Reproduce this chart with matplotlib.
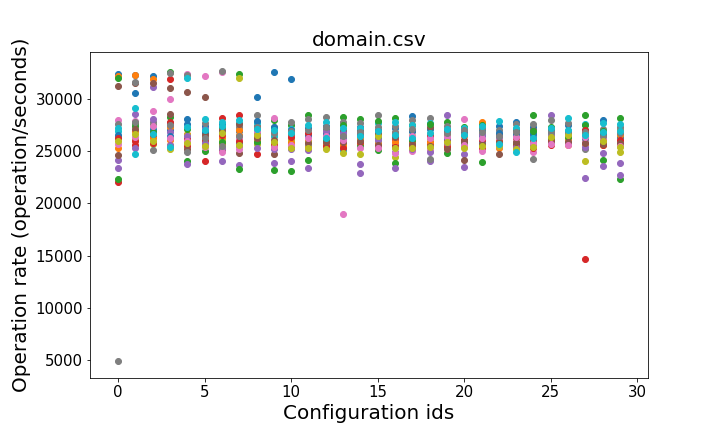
import matplotlib
matplotlib.use("Agg")
import matplotlib.pyplot as plt

# configuration ids on the x axis
config_ids = [0, 1, 2, 3, 4, 5, 6, 7, 8, 9, 10, 11, 12, 13, 14,
              15, 16, 17, 18, 19, 20, 21, 22, 23, 24, 25, 26, 27, 28, 29]

# --- operation rates per run (one list per run, one value per config) ---
run_01 = [32400, 32250, 32150, 27000, 28100, 27400, 27600, 26900, 30200, 32550, 31900, 27200, 27400, 26800, 27300,
          27000, 27200, 28350, 27100, 27000, 26800, 27000, 27400, 27800, 27300, 27000, 27500, 27000, 28000, 27000]
run_02 = [32200, 32250, 31850, 27300, 26600, 26300, 26200, 26500, 26600, 26400, 26000, 26000, 26600, 26500, 26200,
          26500, 26700, 26400, 26600, 26500, 26400, 27800, 25300, 26500, 26700, 26700, 25550, 25700, 26300, 27000]
run_03 = [31950, 27400, 27500, 32550, 24050, 26700, 27300, 32400, 27200, 28000, 27500, 28400, 27000, 28250, 28100,
          25050, 28150, 27500, 25900, 27800, 27300, 27500, 26500, 27100, 28450, 27300, 26900, 28450, 24150, 28150]
run_04 = [22050, 25600, 26400, 31900, 26200, 24050, 28150, 28400, 24750, 26800, 25800, 25900, 26300, 26000, 26800,
          26800, 26100, 25900, 25800, 26000, 25700, 25300, 26600, 26200, 25600, 25550, 26000, 14700, 26100, 25600]
run_05 = [24100, 28550, 31100, 26800, 23800, 27100, 24050, 23650, 26700, 23900, 25150, 25050, 25700, 25800, 23800,
          25800, 24900, 26300, 24050, 28400, 24700, 25900, 25600, 26700, 26300, 28450, 26400, 22450, 24800, 23900]
run_06 = [31250, 31550, 31500, 31050, 30600, 30200, 25100, 24800, 27400, 24700, 26600, 26400, 26800, 27000, 27000,
          26700, 25600, 26900, 27300, 26800, 24150, 26400, 24750, 26900, 27000, 27100, 26700, 26400, 26500, 26600]
run_07 = [28000, 27900, 28850, 30000, 32350, 32200, 32550, 26200, 25800, 28200, 26200, 25600, 25400, 19000, 25800,
          26200, 25900, 25000, 25100, 25600, 28100, 25000, 26100, 25900, 24900, 26100, 26200, 26000, 25900, 26000]
run_08 = [4900, 31650, 27800, 32450, 32300, 27700, 32700, 27300, 28450, 27300, 27750, 28100, 28250, 27800, 27700,
          28450, 27400, 28000, 28200, 27400, 26600, 27200, 27000, 27600, 27600, 28000, 27700, 25200, 27100, 27300]
run_09 = [26300, 26150, 25700, 25600, 26500, 25900, 26000, 32000, 25650, 25450, 26100, 25900, 25600, 25500, 26000,
          25950, 24400, 26400, 26200, 25500, 26000, 26200, 25900, 25700, 26000, 25800, 25900, 26200, 25600, 24900]
run_10 = [26950, 29100, 27200, 27700, 32000, 28050, 27800, 27700, 27700, 26400, 27100, 25500, 27800, 25100, 27200,
          27700, 27800, 27500, 27700, 26300, 27200, 26000, 27900, 27200, 26800, 26800, 28150, 27600, 27700, 27600]
run_11 = [26500, 30550, 27000, 26400, 27600, 26800, 26900, 25800, 27900, 27300, 27000, 26500, 26600, 26200, 26500,
          26300, 26400, 26900, 26300, 26200, 26000, 26300, 26700, 26600, 26600, 26400, 26700, 26200, 26600, 26300]
run_12 = [25300, 26900, 26200, 26100, 25900, 25600, 25700, 27000, 26000, 25900, 25800, 25400, 25800, 25600, 25700,
          25700, 25900, 25800, 25900, 25600, 25500, 25600, 26000, 25700, 25800, 25800, 26200, 26700, 25800, 26500]
run_13 = [22300, 27700, 26800, 28300, 27100, 25000, 25900, 23300, 25900, 23150, 23100, 24100, 26100, 27500, 25500,
          27900, 23900, 26100, 27600, 24850, 25800, 23950, 25700, 25800, 26900, 26200, 26300, 27500, 26900, 22350]
run_14 = [26200, 26000, 25800, 27800, 25500, 26100, 26500, 26000, 26300, 25700, 26300, 26700, 25500, 25300, 25900,
          25400, 25400, 25500, 26400, 25400, 26100, 26100, 25900, 25500, 25300, 26000, 25700, 27000, 25600, 26100]
run_15 = [23400, 25300, 28100, 25600, 26400, 25800, 25300, 25500, 25300, 25200, 24050, 23400, 26900, 26700, 22850,
          26100, 23400, 25200, 24900, 25800, 23500, 26600, 26300, 25400, 25500, 26500, 25800, 25400, 23550, 22700]
run_16 = [24650, 27100, 26650, 28550, 25200, 26500, 27000, 27600, 26200, 26100, 25400, 25800, 25900, 25900, 26000,
          25600, 26300, 25700, 25500, 25200, 26000, 25700, 25900, 25900, 26100, 25900, 25900, 25800, 25700, 25800]
run_17 = [25700, 26300, 27400, 26200, 26000, 25400, 24900, 25200, 26900, 25400, 25600, 26200, 26400, 26100, 25300,
          25300, 24800, 26400, 26200, 26300, 25600, 26200, 25500, 26300, 25800, 25700, 25600, 26300, 26200, 25500]
run_18 = [27600, 27800, 25050, 27500, 24900, 26200, 25500, 26400, 27300, 26700, 26900, 27000, 27300, 26400, 26800,
          27300, 26800, 27100, 24200, 26700, 27000, 26800, 26400, 26800, 24250, 26800, 26800, 26800, 26400, 26700]
run_19 = [25950, 26600, 26000, 25150, 25800, 25500, 26700, 25600, 26500, 25900, 25300, 25300, 25150, 24800, 24750,
          26400, 25300, 25300, 25400, 25900, 25300, 25500, 25500, 25200, 25400, 26300, 26500, 24000, 26000, 25400]
run_20 = [27200, 24750, 26600, 25400, 27300, 27000, 27400, 28000, 27100, 27000, 26700, 27500, 26200, 27200, 26400,
          26900, 26500, 26200, 26700, 27100, 26500, 27400, 25700, 24950, 26200, 27200, 27000, 26500, 26800, 26900]

runs = [run_01, run_02, run_03, run_04, run_05, run_06, run_07, run_08, run_09, run_10,
        run_11, run_12, run_13, run_14, run_15, run_16, run_17, run_18, run_19, run_20]

# --- Plot ---
fig, ax = plt.subplots(figsize=(10, 6), dpi=72)
fig.subplots_adjust(left=0.125, right=0.9, top=0.88, bottom=0.125)

for run in runs:
    ax.scatter(config_ids, run)

ax.set_xlim(-1.62, 30.62)
ax.set_ylim(3280, 34490)

ax.set_title("domain.csv", fontsize=20)
ax.set_xlabel("Configuration ids", fontsize=20)
ax.set_ylabel("Operation rate (operation/seconds)", fontsize=20)
ax.tick_params(labelsize=15)

fig.savefig("out.png", dpi=72)
